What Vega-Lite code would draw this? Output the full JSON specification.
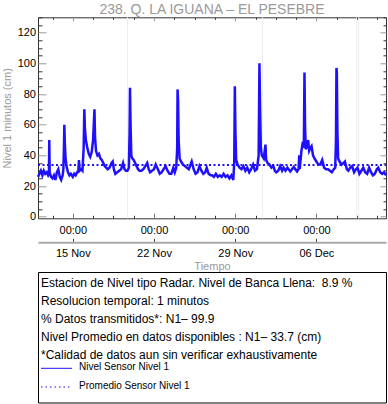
{
"$schema":"https://vega.github.io/schema/vega-lite/v6.json",
"autosize":{"type":"none"},
"padding":{"left":38,"top":17.3,"right":350,"bottom":386.7},
"background":"white",
"bounds":"flush",
"spacing":53.7,
"config":{"font":"Liberation Sans","view":{"stroke":"#333","strokeWidth":1},"axis":{"grid":false,"domain":false,"labelFont":"Liberation Sans","titleFont":"Liberation Sans","labelColor":"#000","labelFontSize":11}},
"vconcat":[
{
"width":348,"height":201,
"title":{"text":"238. Q. LA IGUANA – EL PESEBRE","fontSize":14,"color":"#9a9a9a","fontWeight":"normal","font":"Liberation Sans","offset":-6},
"layer":[
{
"data":{"values":[{"t":"2023-11-19T17:15"},{"t":"2023-12-01T08:25"},{"t":"2023-12-09T11:20"},{"t":"2023-12-09T15:40"}]},
"mark":{"type":"rule","color":"#eeeeee","strokeWidth":1},
"encoding":{"x":{"field":"t","type":"temporal","scale":{"domain":[{"year":2023,"month":11,"date":12},{"year":2023,"month":12,"date":12}],"nice":false},
"axis":{"orient":"top","title":null,"labels":false,"values":[{"year":2023,"month":11,"date":13,"hours":6},{"year":2023,"month":11,"date":15},{"year":2023,"month":11,"date":16,"hours":18},{"year":2023,"month":11,"date":18,"hours":12},{"year":2023,"month":11,"date":20,"hours":6},{"year":2023,"month":11,"date":22},{"year":2023,"month":11,"date":23,"hours":18},{"year":2023,"month":11,"date":25,"hours":12},{"year":2023,"month":11,"date":27,"hours":6},{"year":2023,"month":11,"date":29},{"year":2023,"month":11,"date":30,"hours":18},{"year":2023,"month":12,"date":2,"hours":12},{"year":2023,"month":12,"date":4,"hours":6},{"year":2023,"month":12,"date":6},{"year":2023,"month":12,"date":7,"hours":18},{"year":2023,"month":12,"date":9,"hours":12},{"year":2023,"month":12,"date":11,"hours":6}],
"tickSize":{"condition":{"test":"hours(datum.value)==0","value":-3.5},"value":-2},
"tickColor":{"condition":{"test":"hours(datum.value)==0","value":"#999"},"value":"#333"}}}}
},
{
"data":{"values":[
{"t":"2023-11-12T00:00","v":26},{"t":"2023-11-12T03:00","v":28},{"t":"2023-11-12T06:00","v":30},{"t":"2023-11-12T09:00","v":27},{"t":"2023-11-12T12:00","v":30},{"t":"2023-11-12T15:00","v":28},{"t":"2023-11-12T18:00","v":29},{"t":"2023-11-12T21:00","v":27},{"t":"2023-11-12T22:40","v":28},{"t":"2023-11-12T23:20","v":50},{"t":"2023-11-13T00:10","v":29},{"t":"2023-11-13T03:00","v":26},{"t":"2023-11-13T06:00","v":25},{"t":"2023-11-13T09:00","v":27},{"t":"2023-11-13T12:00","v":24},{"t":"2023-11-13T15:00","v":29},{"t":"2023-11-13T18:00","v":31},{"t":"2023-11-13T21:00","v":26},
{"t":"2023-11-14T00:00","v":24},{"t":"2023-11-14T03:00","v":27},{"t":"2023-11-14T04:30","v":31},{"t":"2023-11-14T05:40","v":45},{"t":"2023-11-14T06:30","v":60},{"t":"2023-11-14T07:30","v":48},{"t":"2023-11-14T09:00","v":38},{"t":"2023-11-14T11:00","v":33},{"t":"2023-11-14T14:00","v":29},{"t":"2023-11-14T17:00","v":27},{"t":"2023-11-14T20:00","v":28},
{"t":"2023-11-15T00:00","v":26},{"t":"2023-11-15T03:00","v":28},{"t":"2023-11-15T06:00","v":27},{"t":"2023-11-15T09:00","v":29},{"t":"2023-11-15T11:30","v":30},{"t":"2023-11-15T12:45","v":37},{"t":"2023-11-15T14:00","v":30},{"t":"2023-11-15T17:00","v":31},{"t":"2023-11-15T20:00","v":30},{"t":"2023-11-15T22:30","v":45},{"t":"2023-11-15T23:50","v":70},
{"t":"2023-11-16T01:00","v":58},{"t":"2023-11-16T03:00","v":50},{"t":"2023-11-16T06:00","v":45},{"t":"2023-11-16T09:00","v":41},{"t":"2023-11-16T12:00","v":39},{"t":"2023-11-16T15:00","v":42},{"t":"2023-11-16T18:00","v":50},{"t":"2023-11-16T20:50","v":70},{"t":"2023-11-16T22:00","v":52},
{"t":"2023-11-17T00:00","v":43},{"t":"2023-11-17T03:00","v":40},{"t":"2023-11-17T06:00","v":41},{"t":"2023-11-17T09:00","v":38},{"t":"2023-11-17T12:00","v":37},{"t":"2023-11-17T15:00","v":35},{"t":"2023-11-17T18:00","v":33},{"t":"2023-11-17T21:00","v":32},
{"t":"2023-11-18T00:00","v":31},{"t":"2023-11-18T04:00","v":32},{"t":"2023-11-18T08:00","v":35},{"t":"2023-11-18T10:30","v":36},{"t":"2023-11-18T13:00","v":31},{"t":"2023-11-18T16:00","v":28},{"t":"2023-11-18T20:00","v":29},
{"t":"2023-11-19T00:00","v":30},{"t":"2023-11-19T04:00","v":31},{"t":"2023-11-19T08:00","v":35},{"t":"2023-11-19T11:00","v":31},{"t":"2023-11-19T14:00","v":30},{"t":"2023-11-19T17:00","v":30},{"t":"2023-11-19T20:00","v":32},{"t":"2023-11-19T21:30","v":55},{"t":"2023-11-19T22:20","v":84},{"t":"2023-11-19T23:30","v":60},
{"t":"2023-11-20T01:00","v":40},{"t":"2023-11-20T03:00","v":38},{"t":"2023-11-20T06:00","v":37},{"t":"2023-11-20T09:00","v":35},{"t":"2023-11-20T12:00","v":33},{"t":"2023-11-20T15:00","v":31},{"t":"2023-11-20T18:00","v":30},{"t":"2023-11-20T22:00","v":30},
{"t":"2023-11-21T02:00","v":31},{"t":"2023-11-21T06:00","v":33},{"t":"2023-11-21T10:00","v":35},{"t":"2023-11-21T13:00","v":31},{"t":"2023-11-21T16:00","v":29},{"t":"2023-11-21T20:00","v":30},
{"t":"2023-11-22T00:00","v":31},{"t":"2023-11-22T03:30","v":34},{"t":"2023-11-22T08:00","v":31},{"t":"2023-11-22T12:00","v":28},{"t":"2023-11-22T16:00","v":29},{"t":"2023-11-22T20:00","v":31},
{"t":"2023-11-23T00:00","v":33},{"t":"2023-11-23T04:00","v":30},{"t":"2023-11-23T08:00","v":28},{"t":"2023-11-23T12:00","v":28},{"t":"2023-11-23T16:00","v":32},{"t":"2023-11-23T19:00","v":29},{"t":"2023-11-23T22:00","v":32},
{"t":"2023-11-24T00:00","v":45},{"t":"2023-11-24T00:45","v":83},{"t":"2023-11-24T01:45","v":76},{"t":"2023-11-24T03:00","v":50},{"t":"2023-11-24T05:00","v":38},{"t":"2023-11-24T08:00","v":36},{"t":"2023-11-24T12:00","v":34},{"t":"2023-11-24T16:00","v":33},{"t":"2023-11-24T20:00","v":32},
{"t":"2023-11-25T00:00","v":31},{"t":"2023-11-25T06:00","v":36},{"t":"2023-11-25T10:00","v":31},{"t":"2023-11-25T14:00","v":28},{"t":"2023-11-25T18:00","v":29},{"t":"2023-11-25T22:00","v":33},
{"t":"2023-11-26T02:00","v":30},{"t":"2023-11-26T06:00","v":28},{"t":"2023-11-26T10:00","v":29},{"t":"2023-11-26T13:00","v":32},{"t":"2023-11-26T17:00","v":28},{"t":"2023-11-26T21:00","v":27},
{"t":"2023-11-27T00:00","v":27},{"t":"2023-11-27T04:00","v":26},{"t":"2023-11-27T08:00","v":28},{"t":"2023-11-27T12:00","v":26},{"t":"2023-11-27T16:00","v":27},{"t":"2023-11-27T20:00","v":26},
{"t":"2023-11-28T00:00","v":28},{"t":"2023-11-28T04:00","v":26},{"t":"2023-11-28T08:00","v":27},{"t":"2023-11-28T12:00","v":25},{"t":"2023-11-28T16:00","v":27},{"t":"2023-11-28T20:00","v":24},{"t":"2023-11-28T22:00","v":35},{"t":"2023-11-28T23:15","v":85},
{"t":"2023-11-29T00:30","v":55},{"t":"2023-11-29T02:00","v":37},{"t":"2023-11-29T05:00","v":34},{"t":"2023-11-29T09:00","v":32},{"t":"2023-11-29T13:00","v":31},{"t":"2023-11-29T17:00","v":33},{"t":"2023-11-29T21:00","v":30},
{"t":"2023-11-30T01:00","v":32},{"t":"2023-11-30T05:00","v":29},{"t":"2023-11-30T09:00","v":31},{"t":"2023-11-30T13:00","v":34},{"t":"2023-11-30T17:00","v":30},{"t":"2023-11-30T21:00","v":31},
{"t":"2023-12-01T00:30","v":40},{"t":"2023-12-01T02:10","v":100},{"t":"2023-12-01T03:30","v":70},{"t":"2023-12-01T05:00","v":45},{"t":"2023-12-01T07:00","v":40},{"t":"2023-12-01T11:00","v":38},{"t":"2023-12-01T14:40","v":47},{"t":"2023-12-01T16:00","v":37},{"t":"2023-12-01T19:00","v":35},{"t":"2023-12-01T23:00","v":34},
{"t":"2023-12-02T03:00","v":32},{"t":"2023-12-02T07:00","v":33},{"t":"2023-12-02T10:00","v":30},{"t":"2023-12-02T13:00","v":29},{"t":"2023-12-02T17:00","v":30},{"t":"2023-12-02T21:00","v":33},
{"t":"2023-12-03T01:00","v":30},{"t":"2023-12-03T04:00","v":32},{"t":"2023-12-03T08:00","v":30},{"t":"2023-12-03T12:00","v":32},{"t":"2023-12-03T18:00","v":29.5},
{"t":"2023-12-04T01:00","v":32.5},{"t":"2023-12-04T08:00","v":29.5},{"t":"2023-12-04T11:00","v":31},{"t":"2023-12-04T12:30","v":40},{"t":"2023-12-04T13:30","v":31},{"t":"2023-12-04T17:00","v":43},{"t":"2023-12-04T20:00","v":49},{"t":"2023-12-04T22:00","v":45},{"t":"2023-12-04T23:20","v":94},
{"t":"2023-12-05T00:30","v":60},{"t":"2023-12-05T02:00","v":44},{"t":"2023-12-05T05:00","v":46},{"t":"2023-12-05T07:00","v":50},{"t":"2023-12-05T09:00","v":43},{"t":"2023-12-05T12:00","v":45},{"t":"2023-12-05T14:00","v":46},{"t":"2023-12-05T17:00","v":40},{"t":"2023-12-05T20:00","v":38},
{"t":"2023-12-06T00:00","v":36},{"t":"2023-12-06T04:00","v":34},{"t":"2023-12-06T08:00","v":34},{"t":"2023-12-06T12:00","v":37},{"t":"2023-12-06T16:00","v":32},{"t":"2023-12-06T20:00","v":31},
{"t":"2023-12-07T00:00","v":31},{"t":"2023-12-07T04:00","v":30},{"t":"2023-12-07T08:00","v":29},{"t":"2023-12-07T12:00","v":31},{"t":"2023-12-07T15:00","v":32},{"t":"2023-12-07T16:30","v":50},{"t":"2023-12-07T17:30","v":97},{"t":"2023-12-07T18:15","v":94},{"t":"2023-12-07T19:30","v":55},{"t":"2023-12-07T21:00","v":38},
{"t":"2023-12-08T00:00","v":36},{"t":"2023-12-08T04:00","v":34},{"t":"2023-12-08T08:00","v":35},{"t":"2023-12-08T11:00","v":36},{"t":"2023-12-08T15:00","v":31},{"t":"2023-12-08T18:00","v":30},{"t":"2023-12-08T22:00","v":32},
{"t":"2023-12-09T02:00","v":33},{"t":"2023-12-09T06:00","v":29},{"t":"2023-12-09T10:00","v":31},{"t":"2023-12-09T13:00","v":32},{"t":"2023-12-09T17:00","v":28},{"t":"2023-12-09T21:00","v":30},
{"t":"2023-12-10T01:00","v":32},{"t":"2023-12-10T05:00","v":29},{"t":"2023-12-10T09:00","v":28},{"t":"2023-12-10T13:00","v":32},{"t":"2023-12-10T17:00","v":29},{"t":"2023-12-10T21:00","v":27},
{"t":"2023-12-11T01:00","v":28},{"t":"2023-12-11T05:00","v":31},{"t":"2023-12-11T08:00","v":32},{"t":"2023-12-11T12:00","v":29},{"t":"2023-12-11T16:00","v":28},{"t":"2023-12-11T20:00","v":29},{"t":"2023-12-12T00:00","v":27}
]},
"mark":{"type":"line","color":"#1e0fff","strokeWidth":2.5},
"encoding":{
"x":{"field":"t","type":"temporal","scale":{"domain":[{"year":2023,"month":11,"date":12},{"year":2023,"month":12,"date":12}],"nice":false},
"axis":{"orient":"bottom","title":null,"values":[{"year":2023,"month":11,"date":13,"hours":6},{"year":2023,"month":11,"date":15},{"year":2023,"month":11,"date":16,"hours":18},{"year":2023,"month":11,"date":18,"hours":12},{"year":2023,"month":11,"date":20,"hours":6},{"year":2023,"month":11,"date":22},{"year":2023,"month":11,"date":23,"hours":18},{"year":2023,"month":11,"date":25,"hours":12},{"year":2023,"month":11,"date":27,"hours":6},{"year":2023,"month":11,"date":29},{"year":2023,"month":11,"date":30,"hours":18},{"year":2023,"month":12,"date":2,"hours":12},{"year":2023,"month":12,"date":4,"hours":6},{"year":2023,"month":12,"date":6},{"year":2023,"month":12,"date":7,"hours":18},{"year":2023,"month":12,"date":9,"hours":12},{"year":2023,"month":12,"date":11,"hours":6}],
"labelExpr":"hours(datum.value)==0 ? '00:00' : ''","labelFlush":false,"labelOverlap":false,"labelBound":false,"labelPadding":11,
"tickSize":{"condition":{"test":"hours(datum.value)==0","value":-5},"value":-3},
"tickColor":{"condition":{"test":"hours(datum.value)==0","value":"#777"},"value":"#333"}}},
"y":{"field":"v","type":"quantitative","scale":{"domain":[-1,130],"nice":false,"zero":false},
"axis":{"orient":"left","values":[0,5,10,15,20,25,30,35,40,45,50,55,60,65,70,75,80,85,90,95,100,105,110,115,120,125,130],
"labelExpr":"datum.value % 20 == 0 ? datum.label : ''","labelOverlap":false,"labelFlush":false,"labelPadding":10.5,
"tickSize":{"condition":{"test":"datum.value % 20 == 0","value":-8},"value":-4},
"tickColor":{"condition":{"test":"datum.value % 20 == 0","value":"#999"},"value":"#333"},
"title":"Nivel 1 minutos (cm)","titleColor":"#9a9a9a","titleFontWeight":"normal","titleFontSize":11,"titlePadding":5}}
}
},
{
"data":{"values":[{"t0":"2023-11-12T00:00","t1":"2023-12-12T00:00","media":33.7}]},
"mark":{"type":"rule","color":"#1e0fff","strokeWidth":2,"strokeDash":[2,2.5]},
"encoding":{
"x":{"field":"t0","type":"temporal","scale":{"domain":[{"year":2023,"month":11,"date":12},{"year":2023,"month":12,"date":12}],"nice":false},
"axis":{"orient":"bottom","offset":24,"values":[{"year":2023,"month":11,"date":15},{"year":2023,"month":11,"date":22},{"year":2023,"month":11,"date":29},{"year":2023,"month":12,"date":6}],"format":"%d %b","labelFlush":false,"labelOverlap":false,
"domain":true,"domainColor":"#aaa","domainWidth":2,"tickSize":-4,"tickColor":"#444","labelPadding":9,
"title":"Tiempo","titleColor":"#9a9a9a","titleFontWeight":"normal","titleFontSize":11,"titlePadding":2}},
"x2":{"field":"t1"},
"y":{"field":"media","type":"quantitative","scale":{"domain":[-1,130],"nice":false,"zero":false},
"axis":{"orient":"right","title":null,"labels":false,"values":[0,5,10,15,20,25,30,35,40,45,50,55,60,65,70,75,80,85,90,95,100,105,110,115,120,125,130],
"tickSize":{"condition":{"test":"datum.value % 20 == 0","value":-6},"value":-3},
"tickColor":{"condition":{"test":"datum.value % 20 == 0","value":"#999"},"value":"#333"}}}
}
}
],
"resolve":{"scale":{"x":"independent","y":"independent"}}
},
{
"width":348,"height":130.5,
"view":{"stroke":"#000","strokeWidth":1},
"layer":[
{
"data":{"values":[{"fila":1,"texto":"Estacion de Nivel tipo Radar. Nivel de Banca Llena:\u00a0 8.9 %"},{"fila":2,"texto":"Resolucion temporal: 1 minutos"},{"fila":3,"texto":"% Datos transmitidos*: N1\u2013 99.9"},{"fila":4,"texto":"Nivel Promedio en datos disponibles : N1\u2013 33.7 (cm)"},{"fila":5,"texto":"*Calidad de datos aun sin verificar exhaustivamente"}]},
"mark":{"type":"text","align":"left","baseline":"middle","fontSize":12,"font":"Liberation Sans","color":"#000"},
"encoding":{"x":{"value":3},"y":{"field":"fila","type":"quantitative","scale":{"domain":[1,5],"range":[11.3,83]},"axis":null},"text":{"field":"texto"}}
},
{
"data":{"values":[{"fila":1,"serie":"Nivel Sensor Nivel 1"},{"fila":2,"serie":"Promedio Sensor Nivel 1"}]},
"mark":{"type":"rule","color":"#1e0fff","strokeWidth":1},
"encoding":{"x":{"value":3},"x2":{"value":34},"y":{"field":"fila","type":"quantitative","scale":{"domain":[1,2],"range":[96.3,115]},"axis":null},
"strokeDash":{"field":"serie","type":"nominal","scale":{"domain":["Nivel Sensor Nivel 1","Promedio Sensor Nivel 1"],"range":[[1,0],[1.5,3]]},"legend":null}}
},
{
"data":{"values":[{"fila":1,"serie":"Nivel Sensor Nivel 1"},{"fila":2,"serie":"Promedio Sensor Nivel 1"}]},
"mark":{"type":"text","align":"left","baseline":"middle","fontSize":10,"font":"Liberation Sans","color":"#000"},
"encoding":{"x":{"value":41},"y":{"field":"fila","type":"quantitative","scale":{"domain":[1,2],"range":[95.3,114]},"axis":null},"text":{"field":"serie"}}
}
],
"resolve":{"scale":{"y":"independent"}}
}
]
}
